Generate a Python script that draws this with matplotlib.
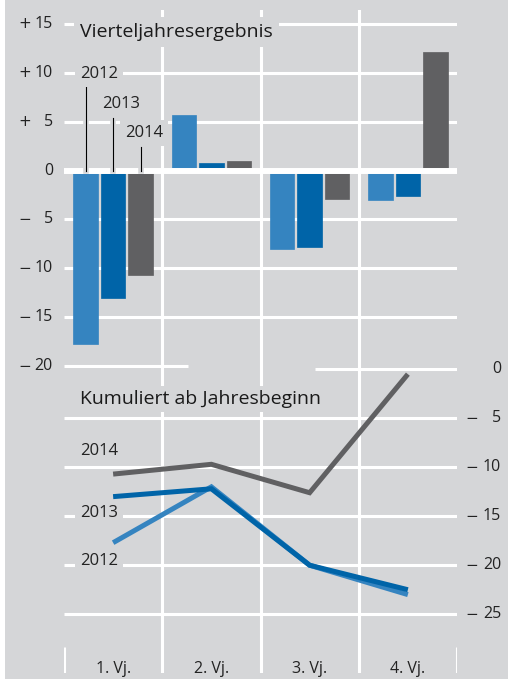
import matplotlib
matplotlib.use('Agg')
import matplotlib.pyplot as plt
import matplotlib.patheffects as pe
from matplotlib.patches import Rectangle

# data
quarters = ['1. Vj.', '2. Vj.', '3. Vj.', '4. Vj.']
years = ['2012', '2013', '2014']
q_2012 = [-17.7, 5.7, -8.0, -3.0]
q_2013 = [-13.0, 0.8, -7.8, -2.6]
q_2014 = [-10.7, 1.0, -2.9, 12.1]
cum_2012 = [-17.7, -12.0, -20.0, -23.0]
cum_2013 = [-13.0, -12.2, -20.0, -22.5]
cum_2014 = [-10.7, -9.7, -12.6, -0.5]
top_ticks = [15, 10, 5, 0, -5, -10, -15, -20]
bottom_ticks = [0, -5, -10, -15, -20, -25]

bg = '#d5d6d8'
colors = ['#3584c0', '#0064a8', '#606062']
txt = '#222222'
fonts = ['Open Sans', 'DejaVu Sans']
plt.rcParams['font.family'] = fonts

fig = plt.figure(figsize=(5.08, 6.81), dpi=100)
fig.patch.set_facecolor('white')
fig.patches.append(Rectangle((5 / 508, 2 / 681), 1, 1, transform=fig.transFigure,
                             facecolor=bg, edgecolor='none', zorder=-10))

ax1 = fig.add_axes([64 / 508, 1 - 367.5 / 681, 393 / 508, 357.5 / 681])
ax2 = fig.add_axes([64 / 508, 1 - 673 / 681, 393 / 508, 305.5 / 681])
for ax in (ax1, ax2):
    ax.set_facecolor('none')
    ax.set_xlim(-0.5, 3.5)
    for s in ax.spines.values():
        s.set_visible(False)
    ax.set_xticks([])
    ax.set_yticks([])
    for xv in [0.5, 1.5, 2.5]:
        ax.axvline(xv, color='white', lw=2.2, zorder=1)

ax1.set_ylim(-20.15, 16.43)
ax2.set_ylim(-31.0, 0.18)

grid_lw = 2.2
# top panel grid
for t in top_ticks:
    if t == 0:
        continue
    x1 = 0.76 if t == -20 else 3.5
    ax1.plot([-0.5, x1], [t, t], color='white', lw=grid_lw, zorder=1, solid_capstyle='butt')

xs = list(range(len(quarters)))
offs = [-0.28, 0.0, 0.28]
w = 0.25
for vals, off, c in zip([q_2012, q_2013, q_2014], offs, colors):
    ax1.bar([x + off for x in xs], vals, width=w, color=c, zorder=2,
            edgecolor=c, linewidth=0.5)
ax1.plot([-0.5, 3.5], [0, 0], color='white', lw=4.3, zorder=3, solid_capstyle='butt')

lab_box = dict(boxstyle='square,pad=0.3', facecolor=bg, edgecolor='none')
ax1.text(-0.337, 13.67, 'Vierteljahresergebnis', fontsize=14, color='#1a1a1a',
         ha='left', va='baseline', zorder=5, bbox=lab_box)

# year labels with leader lines
lab_x = [-0.337, -0.113, 0.121]
lab_y = [9.49, 6.43, 3.47]
lead_top = [8.57, 5.41, 2.45]
for yr, off, lx, ly, lt in zip(years, offs, lab_x, lab_y, lead_top):
    ax1.text(lx, ly, yr, fontsize=12, color=txt, ha='left', va='baseline',
             zorder=5, bbox=lab_box)
    ax1.plot([off, off], [lt, 0], color='black', lw=0.8, zorder=4,
             path_effects=[pe.Stroke(linewidth=4, foreground=bg), pe.Normal()])

# left axis labels
tr1 = ax1.get_yaxis_transform()
for t in top_ticks:
    ax1.text(-0.028, t, str(abs(t)), transform=tr1, ha='right', va='center',
             fontsize=11.5, color=txt)
    if t != 0:
        ax1.text(-0.099, t, '+' if t > 0 else '\u2212', transform=tr1, ha='center',
                 va='center', fontsize=11, color=txt, family='DejaVu Sans')

# bottom panel grid
for t in bottom_ticks:
    x0 = 2.05 if t == 0 else -0.5
    ax2.plot([x0, 3.5], [t, t], color='white', lw=grid_lw, zorder=1, solid_capstyle='butt')
for xv in [-0.5, 3.5]:
    ax2.plot([xv, xv], [-28.3, -31.0], color='white', lw=grid_lw, zorder=1,
             solid_capstyle='butt')

for vals, c in zip([cum_2012, cum_2013, cum_2014], colors):
    ax2.plot(xs, vals, color=c, lw=3.6, zorder=3, solid_capstyle='butt',
             solid_joinstyle='miter')

ax2.text(-0.337, -3.54, 'Kumuliert ab Jahresbeginn', fontsize=14, color='#1a1a1a',
         ha='left', va='baseline', zorder=5,
         bbox=dict(boxstyle='square,pad=0.2', facecolor=bg, edgecolor='none'))
line_lab_y = [-19.97, -15.07, -8.74]
for yr, ly in zip(years, line_lab_y):
    ax2.text(-0.337, ly, yr, fontsize=12, color=txt, ha='left', va='baseline',
             zorder=5, bbox=lab_box)

tr2 = ax2.get_yaxis_transform()
for t in bottom_ticks:
    ax2.text(1.112, t, str(abs(t)), transform=tr2, ha='right', va='center',
             fontsize=11.5, color=txt)
    if t != 0:
        ax2.text(1.038, t, '\u2212', transform=tr2, ha='center', va='center',
                 fontsize=11, color=txt, family='DejaVu Sans')

for x, q in zip(xs, quarters):
    ax2.text(x, -30.95, q, ha='center', va='baseline', fontsize=11.5, color=txt)

fig.savefig('out.png', dpi=100, facecolor='white')
